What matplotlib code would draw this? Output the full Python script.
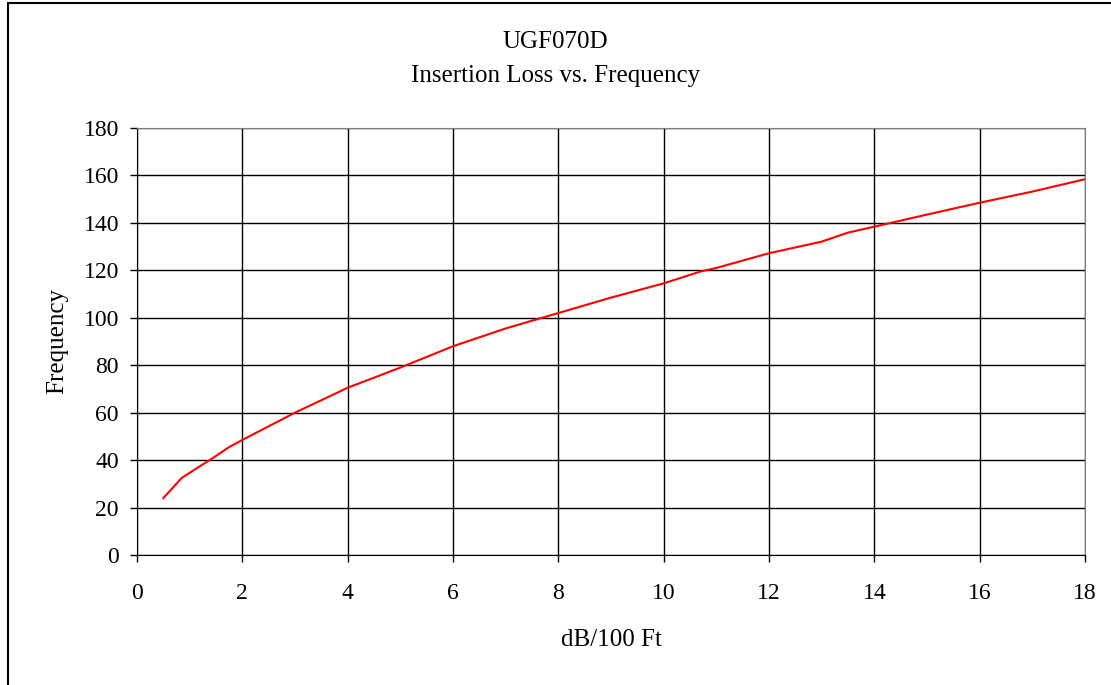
import matplotlib
matplotlib.use("Agg")
import matplotlib.pyplot as plt
from matplotlib.patches import Rectangle

# insertion loss (dB/100 ft) vs frequency
loss = [0.5, 0.85, 1.2, 1.45, 1.75, 2.0, 3.0, 4.0, 5.0, 6.0, 7.0, 8.0, 9.0,
        10.0, 10.7, 11.0, 12.0, 13.0, 13.5, 14.0, 15.0, 16.0, 17.0, 18.0]
freq = [24, 32.5, 37.5, 41, 45.5, 48.5, 60, 70.5, 79, 88, 95.5, 102, 108.5,
        114.5, 119.5, 121, 127.2, 132.1, 135.9, 138.4, 143.5, 148.5, 153.2, 158.4]

xticks = list(range(0, 19, 2))
yticks = list(range(0, 181, 20))

plt.rcParams['font.family'] = ['Liberation Serif', 'DejaVu Serif']

fig = plt.figure(figsize=(11.11, 6.85), dpi=100)
fig.patches.append(Rectangle((8 / 1111, -0.1), 1.2, 1.1 - 3 / 685,
                             transform=fig.transFigure, fill=False,
                             edgecolor='black', linewidth=1.5))

ax = fig.add_axes([137 / 1111, 1 - 555 / 685, (1085 - 137) / 1111, (555 - 128) / 685])
ax.plot(loss, freq, color='red', linewidth=1.5)

ax.set_xlim(0, 18)
ax.set_ylim(0, 180)
ax.set_xticks(xticks)
ax.set_yticks(yticks)
ax.grid(True, color='black', linewidth=1)
ax.tick_params(labelsize=17, direction='out', length=5, width=1, colors='black')
ax.tick_params(axis='x', pad=15)
ax.tick_params(axis='y', pad=8)
for side in ['top', 'right']:
    ax.spines[side].set_color('#808080')
for side in ['left', 'bottom']:
    ax.spines[side].set_color('black')

ax.set_xlabel("dB/100 Ft", fontsize=18, labelpad=18)
ax.set_ylabel("Frequency", fontsize=18, labelpad=11)
fig.text(0.5, 1 - 42 / 685, "UGF070D", ha='center', va='center', fontsize=18)
fig.text(0.5, 1 - 76 / 685, "Insertion Loss vs. Frequency", ha='center', va='center', fontsize=18)

fig.savefig("out.png", dpi=100)
